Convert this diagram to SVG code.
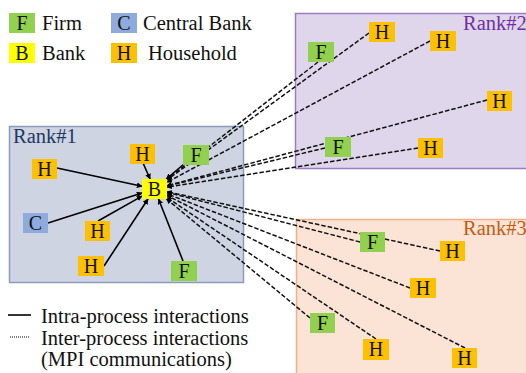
<svg xmlns="http://www.w3.org/2000/svg" width="526" height="373" viewBox="0 0 526 373">
<defs>
<style>
text{font-family:"Liberation Serif","Times New Roman",serif;font-size:20.5px;fill:#111}
.lbl{text-anchor:middle;font-size:20px}
.F{fill:#92d050}.B{fill:#ffff00}.C{fill:#8faadc}.H{fill:#ffc000}
.s{stroke:#000;stroke-width:1.6;fill:none;marker-end:url(#ah)}
.d{stroke:#111;stroke-width:1.5;fill:none;stroke-dasharray:4.5 2;marker-end:url(#ah)}
</style>
<marker id="ah" viewBox="0 0 10 10" refX="9" refY="5" markerWidth="3.6" markerHeight="3.6" orient="auto" markerUnits="strokeWidth">
<path d="M0,0 L10,5 L0,10 z" fill="#000"/>
</marker>
</defs>
<rect width="526" height="373" fill="#fff"/>
<!-- Rank boxes -->
<g id="rank1"><rect x="9.5" y="126.5" width="234" height="156" fill="#ced4e2" stroke="#8a9bbb" stroke-width="1.5"/><text x="13" y="143" style="fill:#1f3864">Rank#1</text></g>
<g id="rank2"><rect x="295.5" y="13.5" width="240" height="155" fill="#e0d6ec" stroke="#9b7dc0" stroke-width="1.5"/><text x="463" y="30" style="fill:#7030a0">Rank#2</text></g>
<g id="rank3"><rect x="296.5" y="219.5" width="240" height="170" fill="#fbe4d5" stroke="#f2b08a" stroke-width="1.5"/><text x="463" y="235" style="fill:#c55a11">Rank#3</text></g>
<!-- Legend -->
<g id="legend">
<rect x="9" y="13" width="26" height="20" class="F"/><text x="22" y="29.5" class="lbl">F</text><text x="42" y="30">Firm</text>
<rect x="111" y="13" width="26" height="20" class="C"/><text x="124" y="29.5" class="lbl">C</text><text x="143" y="30">Central Bank</text>
<rect x="9" y="43" width="26" height="20" class="B"/><text x="22" y="59.5" class="lbl">B</text><text x="42" y="60">Bank</text>
<rect x="111" y="43" width="26" height="20" class="H"/><text x="124" y="59.5" class="lbl">H</text><text x="148" y="60">Household</text>
<line x1="8" y1="315" x2="31" y2="315" stroke="#000" stroke-width="1.6"/>
<text x="41" y="323">Intra-process interactions</text>
<line x1="10" y1="337" x2="30" y2="337" stroke="#000" stroke-width="1" stroke-dasharray="1 1"/>
<text x="41" y="345">Inter-process interactions</text>
<text x="41" y="366">(MPI communications)</text>
</g>
<!-- Connectors -->
<g id="connectors">
<line class="s" x1="57" y1="168" x2="142" y2="186.3"/>
<line class="s" x1="143" y1="163" x2="150.1" y2="179"/>
<line class="s" x1="184" y1="164" x2="166.3" y2="179"/>
<line class="s" x1="48" y1="223" x2="142" y2="193"/>
<line class="s" x1="98" y1="221" x2="142" y2="196.1"/>
<line class="s" x1="104" y1="266" x2="148" y2="199"/>
<line class="s" x1="183" y1="261" x2="158.5" y2="199"/>
<line class="d" x1="318" y1="62" x2="167" y2="179.3"/>
<line class="d" x1="369" y1="33" x2="167" y2="179.9"/>
<line class="d" x1="430" y1="41" x2="167" y2="182.3"/>
<line class="d" x1="487" y1="100" x2="167" y2="185.7"/>
<line class="d" x1="325" y1="148" x2="167" y2="186"/>
<line class="d" x1="418" y1="148" x2="167" y2="187.1"/>
<line class="d" x1="360" y1="242" x2="167" y2="192.2"/>
<line class="d" x1="440" y1="251" x2="167" y2="191.7"/>
<line class="d" x1="410" y1="288" x2="167" y2="193.8"/>
<line class="d" x1="310" y1="318" x2="166.6" y2="199"/>
<line class="d" x1="376" y1="339" x2="167" y2="197.5"/>
<line class="d" x1="465" y1="348" x2="167" y2="195.4"/>
</g>
<!-- Rank#1 nodes -->
<g id="r1_h1"><rect x="32" y="159" width="25" height="20" class="H"/><text x="44.5" y="175.5" class="lbl">H</text></g>
<g id="r1_h2"><rect x="130" y="144" width="25" height="20" class="H"/><text x="142.5" y="160.5" class="lbl">H</text></g>
<g id="r1_f1"><rect x="183" y="145" width="26" height="20" class="F"/><text x="196" y="161.5" class="lbl">F</text></g>
<g id="r1_b"><rect x="142" y="179" width="25" height="20" class="B"/><text x="154.5" y="195.5" class="lbl">B</text></g>
<g id="r1_c"><rect x="23" y="213" width="25" height="20" class="C"/><text x="35.5" y="229.5" class="lbl">C</text></g>
<g id="r1_h3"><rect x="85" y="221" width="25" height="20" class="H"/><text x="97.5" y="237.5" class="lbl">H</text></g>
<g id="r1_h4"><rect x="78" y="256" width="26" height="20" class="H"/><text x="91" y="272.5" class="lbl">H</text></g>
<g id="r1_f2"><rect x="171" y="261" width="26" height="20" class="F"/><text x="184" y="277.5" class="lbl">F</text></g>
<!-- Rank#2 nodes -->
<g id="r2_f1"><rect x="308" y="42" width="26" height="20" class="F"/><text x="321" y="58.5" class="lbl">F</text></g>
<g id="r2_h1"><rect x="369" y="22" width="26" height="20" class="H"/><text x="382" y="38.5" class="lbl">H</text></g>
<g id="r2_h2"><rect x="430" y="31" width="26" height="20" class="H"/><text x="443" y="47.5" class="lbl">H</text></g>
<g id="r2_h3"><rect x="487" y="91" width="25" height="20" class="H"/><text x="499.5" y="107.5" class="lbl">H</text></g>
<g id="r2_f2"><rect x="325" y="137" width="26" height="20" class="F"/><text x="338" y="153.5" class="lbl">F</text></g>
<g id="r2_h4"><rect x="418" y="138" width="25" height="20" class="H"/><text x="430.5" y="154.5" class="lbl">H</text></g>
<!-- Rank#3 nodes -->
<g id="r3_f1"><rect x="360" y="232" width="25" height="20" class="F"/><text x="372.5" y="248.5" class="lbl">F</text></g>
<g id="r3_h1"><rect x="440" y="241" width="25" height="20" class="H"/><text x="452.5" y="257.5" class="lbl">H</text></g>
<g id="r3_h2"><rect x="410" y="278" width="26" height="20" class="H"/><text x="423" y="294.5" class="lbl">H</text></g>
<g id="r3_f2"><rect x="310" y="313" width="25" height="20" class="F"/><text x="322.5" y="329.5" class="lbl">F</text></g>
<g id="r3_h3"><rect x="363" y="339" width="26" height="21" class="H"/><text x="376" y="356" class="lbl">H</text></g>
<g id="r3_h4"><rect x="452" y="348" width="25" height="20" class="H"/><text x="464.5" y="364.5" class="lbl">H</text></g>
</svg>
